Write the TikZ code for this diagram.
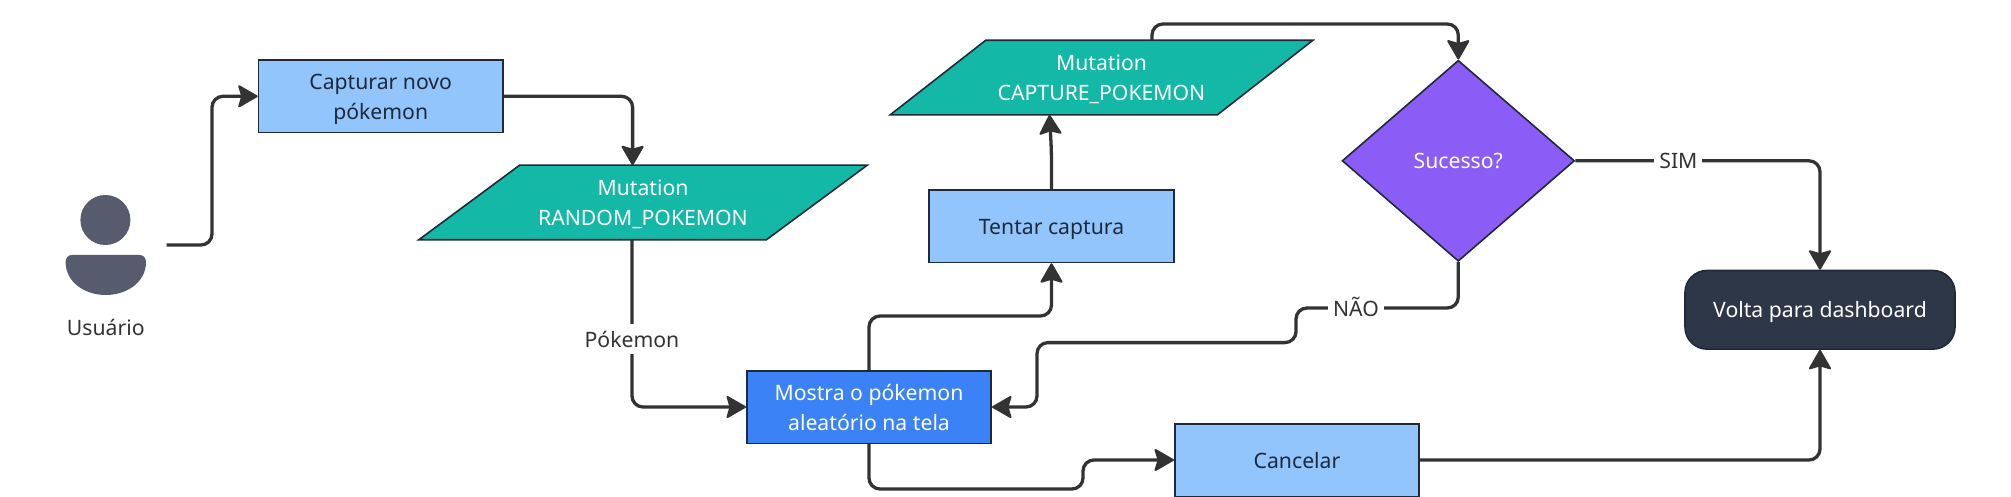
\documentclass[tikz,border=0pt]{standalone}
\usepackage{fontspec}
\setmainfont{Noto Sans}
\usetikzlibrary{shapes.geometric,arrows.meta}
\definecolor{edgecol}{HTML}{333333}
\definecolor{bordercol}{HTML}{1E293B}
\definecolor{lightblue}{HTML}{93C5FD}
\definecolor{midblue}{HTML}{3B82F6}
\definecolor{tealc}{HTML}{14B8A6}
\definecolor{purplec}{HTML}{8B5CF6}
\definecolor{darkc}{HTML}{2D3748}
\definecolor{personc}{HTML}{565B6E}
\newcommand{\lin}[1]{\raisebox{-8pt}[15pt][15pt]{#1}}
\tikzset{
  txt/.style={font=\fontsize{21.2}{30}\selectfont,align=center},
  base/.style={txt,draw=bordercol,line width=1.6pt,inner sep=0pt},
  lightbox/.style={base,rectangle,fill=lightblue,text=bordercol,minimum width=244.5pt,minimum height=72.6pt},
  midbox/.style={lightbox,fill=midblue,text=white},
  para/.style={base,trapezium,trapezium stretches=true,fill=tealc,text=white,trapezium left angle=35,trapezium right angle=145,minimum width=451pt,minimum height=74.6pt},
  decision/.style={base,diamond,fill=purplec,text=white,minimum width=232.4pt,minimum height=201pt},
  terminal/.style={base,rectangle,rounded corners=22pt,fill=darkc,text=white,minimum width=270pt,minimum height=78.6pt},
  edgelabel/.style={txt,fill=white,text=edgecol,inner xsep=5pt,inner ysep=0pt},
  conn/.style={draw=edgecol,line width=3.3pt,rounded corners=11pt,-{Stealth[length=21pt,width=24pt,inset=3.5pt,round,line width=2pt]}},
}
\begin{document}
\begin{tikzpicture}[x=1pt,y=-1pt]
\useasboundingbox (0,0) rectangle (2011,497);
% person
\fill[personc] (105.4,220) ellipse [x radius=25,y radius=25];
\fill[personc] (72,255) -- (139.6,255) .. controls (143.6,255) and (146,258) .. (146,262)
  .. controls (146,282) and (127,295) .. (105.8,295)
  .. controls (84.6,295) and (65.6,282) .. (65.6,262)
  .. controls (65.6,258) and (68,255) .. (72,255) -- cycle;
\node[txt,text=edgecol,inner sep=0pt] (user) at (105.8,327.6) {\lin{Usuário}};
\coordinate (userout) at (166.5,245);
% nodes
\node[lightbox] (cap) at (380.7,96.3) {\lin{Capturar novo}\\\lin{pókemon}};
\node[para] (rand) at (643,202.5) {\lin{Mutation}\\\lin{RANDOM\_POKEMON}};
\node[midbox] (most) at (869,407) {\lin{Mostra o pókemon}\\\lin{aleatório na tela}};
\node[lightbox] (tent) at (1051.5,226.2) {\lin{Tentar captura}};
\node[para,minimum width=425pt] (capt) at (1101.5,77.6) {\lin{Mutation}\\\lin{CAPTURE\_POKEMON}};
\node[decision] (suc) at (1458.3,160.8) {\lin{Sucesso?}};
\node[terminal] (volta) at (1820,309.8) {\lin{Volta para dashboard}};
\node[lightbox] (canc) at (1297,460) {\lin{Cancelar}};
% waypoints
\coordinate (w1) at (1296,308);
\coordinate (w2) at (1037,342.6);
\coordinate (w3) at (1083,489);
\coordinate (w4) at (1152,24);
\coordinate (w5) at (1051.5,316);
% connectors
\draw[conn] (userout) -- (212,245) -- (212,96.3) -- (cap.west);
\draw[conn] (cap.east) -| ([shift={(-10.4,-37.3)}]rand.center);
\draw[conn] ([shift={(-11,37.3)}]rand.center) |- (most.west);
\draw[conn] (most.north) |- (w5) -- (tent.south);
\draw[conn] (tent.north) -- (1051.5,152) -- ([shift={(-52,37.3)}]capt.center);
\draw[conn] ([shift={(50.5,-37.3)}]capt.center) -- (w4) -| (suc.north);
\draw[conn] (suc.east) -| (volta.north);
\draw[conn] (suc.south) |- (w1) |- (w2) |- (most.east);
\draw[conn] (most.south) |- (w3) |- (canc.west);
\draw[conn] (canc.east) -| (volta.south);
% edge labels
\node[edgelabel] (lp) at (632,339) {\lin{Pókemon}};
\node[edgelabel] (ls) at (1678.4,160.8) {\lin{SIM}};
\node[edgelabel] (ln) at (1356,308) {\lin{NÃO}};
\end{tikzpicture}
\end{document}
